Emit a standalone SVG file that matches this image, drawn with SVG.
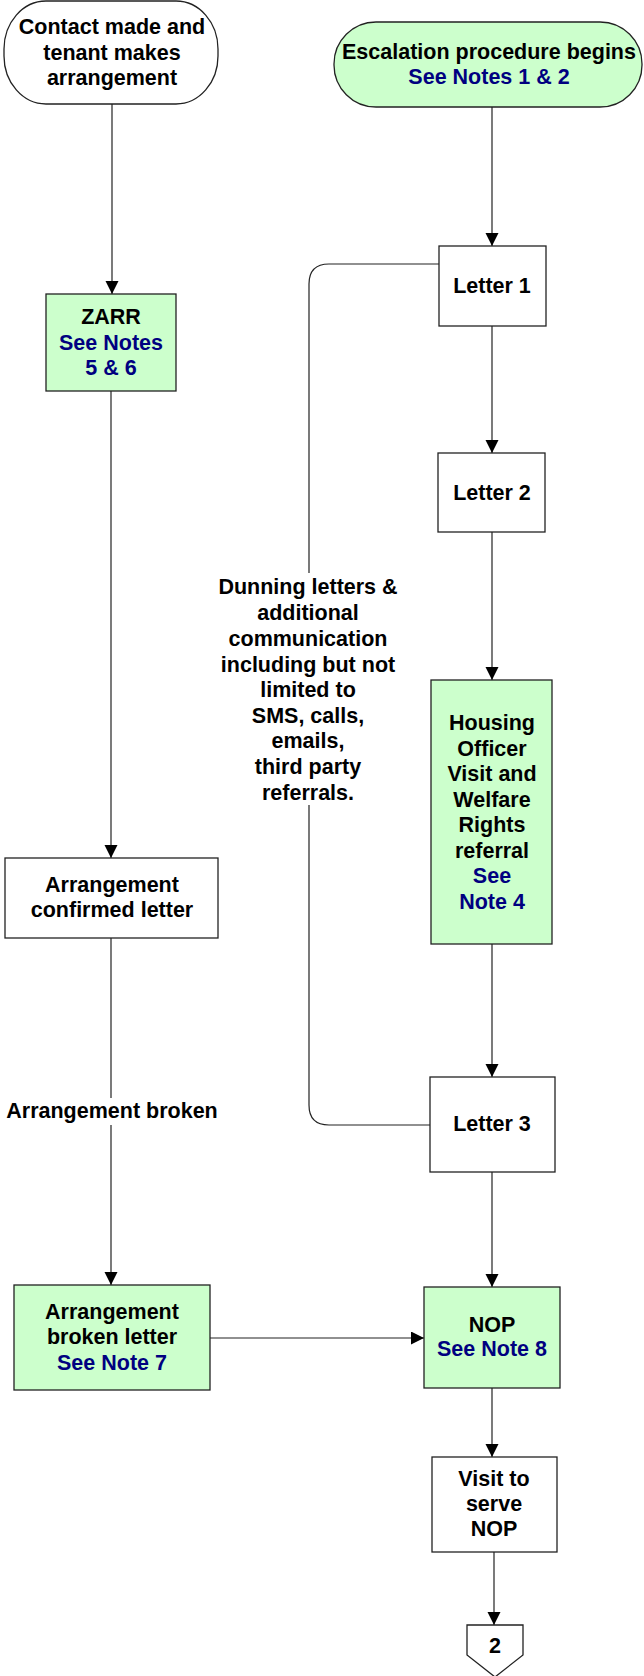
<svg xmlns="http://www.w3.org/2000/svg" width="644" height="1676" viewBox="0 0 644 1676">
<defs>
<marker id="arr" markerWidth="14" markerHeight="14" refX="13" refY="6.5" orient="auto" markerUnits="userSpaceOnUse">
<path d="M0,0 L13,6.5 L0,13 Z" fill="#000"/>
</marker>
<style>
.box{stroke:#222;stroke-width:1.3}
.w{fill:#fff}
.g{fill:#ccffcc}
.t{font-family:"Liberation Sans",Arial,sans-serif;font-weight:bold;font-size:21.5px;fill:#000;text-anchor:middle}
.b{fill:#000080}
.c{fill:none;stroke:#222;stroke-width:1.2}
</style>
</defs>
<rect width="644" height="1676" fill="#fff"/>
<g id="connectors">
<path class="c" d="M112,104 L112,294" marker-end="url(#arr)"/>
<path class="c" d="M111,391 L111,858" marker-end="url(#arr)"/>
<path class="c" d="M111,938 L111,1098"/>
<path class="c" d="M111,1125 L111,1285" marker-end="url(#arr)"/>
<path class="c" d="M210,1338 L424,1338" marker-end="url(#arr)"/>
<path class="c" d="M492,107 L492,246" marker-end="url(#arr)"/>
<path class="c" d="M492,326 L492,453" marker-end="url(#arr)"/>
<path class="c" d="M492,532 L492,680" marker-end="url(#arr)"/>
<path class="c" d="M492,944 L492,1077" marker-end="url(#arr)"/>
<path class="c" d="M492,1172 L492,1287" marker-end="url(#arr)"/>
<path class="c" d="M492,1388 L492,1457" marker-end="url(#arr)"/>
<path class="c" d="M494,1552 L494,1625" marker-end="url(#arr)"/>
<path class="c" d="M439,264 L329,264 Q309,264 309,284 L309,573"/>
<path class="c" d="M309,805 L309,1105 Q309,1125 329,1125 L430,1125"/>
</g>
<g id="contact">
<rect class="box w" x="4" y="1" width="214" height="103" rx="42" ry="48"/>
<text class="t" x="112" y="34">Contact made and</text>
<text class="t" x="112" y="60">tenant makes</text>
<text class="t" x="112" y="85">arrangement</text>
</g>
<g id="escalation">
<rect class="box g" x="334" y="22" width="308" height="85" rx="42" ry="42"/>
<text class="t" x="489" y="59">Escalation procedure begins</text>
<text class="t b" x="489" y="84">See Notes 1 &amp; 2</text>
</g>
<g id="zarr">
<rect class="box g" x="46" y="294" width="130" height="97"/>
<text class="t" x="111" y="324">ZARR</text>
<text class="t b" x="111" y="350">See Notes</text>
<text class="t b" x="111" y="375">5 &amp; 6</text>
</g>
<g id="letter1">
<rect class="box w" x="439" y="246" width="107" height="80"/>
<text class="t" x="492" y="293">Letter 1</text>
</g>
<g id="letter2">
<rect class="box w" x="438" y="453" width="107" height="79"/>
<text class="t" x="492" y="500">Letter 2</text>
</g>
<g id="housing">
<rect class="box g" x="431" y="680" width="121" height="264"/>
<text class="t" x="492" y="730">Housing</text>
<text class="t" x="492" y="755.5">Officer</text>
<text class="t" x="492" y="781">Visit and</text>
<text class="t" x="492" y="806.5">Welfare</text>
<text class="t" x="492" y="832">Rights</text>
<text class="t" x="492" y="857.5">referral</text>
<text class="t b" x="492" y="883">See</text>
<text class="t b" x="492" y="908.5">Note 4</text>
</g>
<g id="dunning-label">
<text class="t" x="308" y="594">Dunning letters &amp;</text>
<text class="t" x="308" y="620">additional</text>
<text class="t" x="308" y="646">communication</text>
<text class="t" x="308" y="672">including but not</text>
<text class="t" x="308" y="697">limited to</text>
<text class="t" x="308" y="723">SMS, calls,</text>
<text class="t" x="308" y="748">emails,</text>
<text class="t" x="308" y="774">third party</text>
<text class="t" x="308" y="800">referrals.</text>
</g>
<g id="confirmed">
<rect class="box w" x="5" y="858" width="213" height="80"/>
<text class="t" x="112" y="892">Arrangement</text>
<text class="t" x="112" y="917">confirmed letter</text>
</g>
<g id="broken-label">
<text class="t" x="112" y="1118">Arrangement broken</text>
</g>
<g id="letter3">
<rect class="box w" x="430" y="1077" width="125" height="95"/>
<text class="t" x="492" y="1131">Letter 3</text>
</g>
<g id="brokenletter">
<rect class="box g" x="14" y="1285" width="196" height="105"/>
<text class="t" x="112" y="1319">Arrangement</text>
<text class="t" x="112" y="1344">broken letter</text>
<text class="t b" x="112" y="1370">See Note 7</text>
</g>
<g id="nop">
<rect class="box g" x="424" y="1287" width="136" height="101"/>
<text class="t" x="492" y="1332">NOP</text>
<text class="t b" x="492" y="1356">See Note 8</text>
</g>
<g id="visit">
<rect class="box w" x="432" y="1457" width="125" height="95"/>
<text class="t" x="494" y="1486">Visit to</text>
<text class="t" x="494" y="1511">serve</text>
<text class="t" x="494" y="1536">NOP</text>
</g>
<g id="offpage2">
<path class="box w" d="M467,1625 L523,1625 L523,1655 L495,1677 L467,1655 Z"/>
<text class="t" x="495" y="1653">2</text>
</g>
</svg>
